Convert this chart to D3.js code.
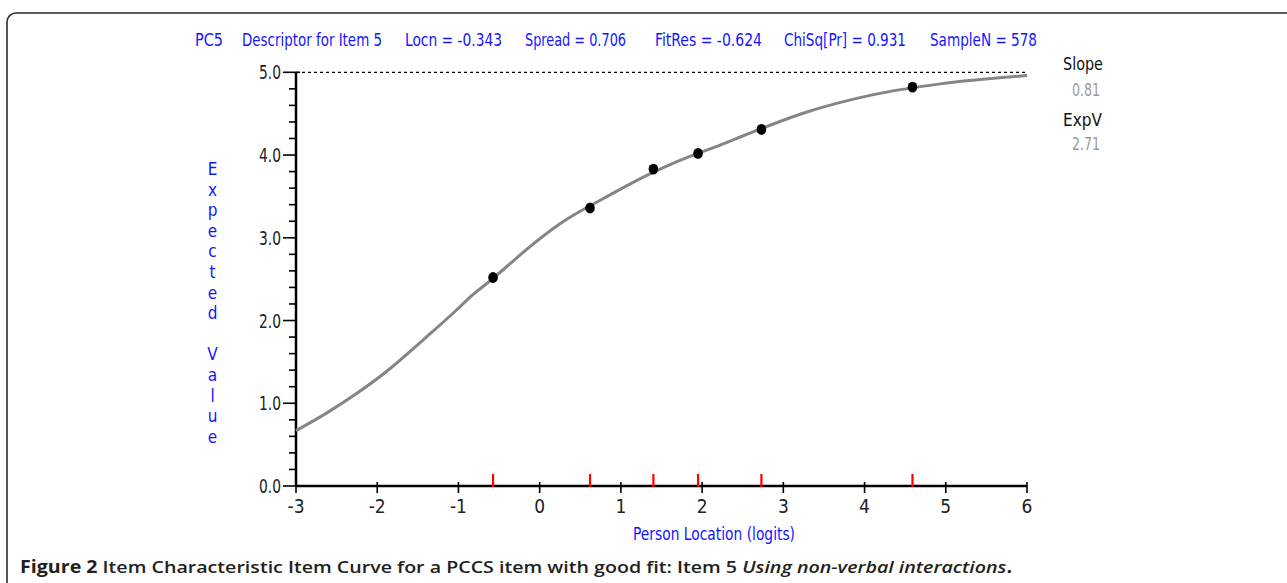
<!DOCTYPE html>
<html>
<head>
<meta charset="utf-8">
<script src="https://cdn.jsdelivr.net/npm/d3@7"></script>
<style>
  body { margin: 0; background: #fff; }
  svg { display: block; }
</style>
</head>
<body>
<script>
// curve (logits -> expected value)
const curveX = [-3, -2.66, -2.25, -1.84, -1.43, -1.02, -0.86, -0.61, -0.36, -0.16, 0.25, 0.87, 1.15, 1.69, 2.3, 2.5, 3.29, 4.11, 4.93, 6]
const curveV = [0.67, 0.86, 1.12, 1.42, 1.77, 2.13, 2.28, 2.48, 2.69, 2.86, 3.17, 3.52, 3.67, 3.92, 4.15, 4.23, 4.52, 4.73, 4.86, 4.96]

// class interval means
const obsX = [-0.574, 0.62, 1.4, 1.95, 2.73, 4.59]
const obsV = [2.52, 3.36, 3.83, 4.02, 4.31, 4.82]

const xTicks = [-3, -2, -1, 0, 1, 2, 3, 4, 5, 6]
const yMajor = [0, 1, 2, 3, 4, 5]
const yMinor = [0.2, 0.4, 0.6, 0.8, 1.2, 1.4, 1.6, 1.8, 2.2, 2.4, 2.6, 2.8, 3.2, 3.4, 3.6, 3.8, 4.2, 4.4, 4.6, 4.8]

const titleParts = ['PC5', 'Descriptor for Item 5', 'Locn = -0.343', 'Spread = 0.706', 'FitRes = -0.624', 'ChiSq[Pr] = 0.931', 'SampleN = 578']
const titleSpan = [[195, 223], [242, 382], [405, 502], [525, 626], [655, 762], [784, 906], [930, 1037]]

const sideLabels = ['Slope', 'ExpV']
const sideValues = ['0.81', '2.71']

const yLabel = 'Expected Value'
const xLabel = 'Person Location (logits)'

const narrow = '"Liberation Sans Narrow", "DejaVu Sans Condensed", "Liberation Sans", sans-serif'
const blue = '#1414ff'

const svg = d3.select('body')
  .append('svg')
  .attr('width', 1287)
  .attr('height', 583)

// frame
svg.append('rect')
  .attr('x', 7).attr('y', 13)
  .attr('width', 1320).attr('height', 620)
  .attr('rx', 9)
  .attr('fill', 'none')
  .attr('stroke', '#2b2b2b')
  .attr('stroke-width', 1.6)

const x = d3.scaleLinear().domain([-3, 6]).range([296, 1027])
const y = d3.scaleLinear().domain([0, 5]).range([486, 72.3])

// title
svg.selectAll('text.title')
  .data(titleParts)
  .enter()
  .append('text')
  .attr('class', 'title')
  .attr('x', (d, i) => titleSpan[i][0])
  .attr('y', 46)
  .attr('textLength', (d, i) => titleSpan[i][1] - titleSpan[i][0])
  .attr('lengthAdjust', 'spacingAndGlyphs')
  .attr('font-family', narrow)
  .attr('font-size', 17)
  .attr('fill', blue)
  .text(d => d)

// dashed max line
svg.append('line')
  .attr('x1', x(-3)).attr('x2', x(6))
  .attr('y1', y(5)).attr('y2', y(5))
  .attr('stroke', '#000')
  .attr('stroke-width', 1.3)
  .attr('stroke-dasharray', '3,3')

// y axis
svg.append('line')
  .attr('x1', x(-3)).attr('x2', x(-3))
  .attr('y1', y(5)).attr('y2', y(0))
  .attr('stroke', '#000').attr('stroke-width', 2.5)

svg.selectAll('line.ymin')
  .data(yMinor)
  .enter()
  .append('line')
  .attr('class', 'ymin')
  .attr('x1', x(-3) - 7).attr('x2', x(-3))
  .attr('y1', d => y(d)).attr('y2', d => y(d))
  .attr('stroke', '#000').attr('stroke-width', 1.6)

svg.selectAll('line.ymaj')
  .data(yMajor)
  .enter()
  .append('line')
  .attr('class', 'ymaj')
  .attr('x1', x(-3) - 13).attr('x2', d => d == 5 ? x(-3) + 4 : x(-3))
  .attr('y1', d => y(d)).attr('y2', d => y(d))
  .attr('stroke', '#000').attr('stroke-width', 1.6)

svg.selectAll('text.ylab')
  .data(yMajor)
  .enter()
  .append('text')
  .attr('class', 'ylab')
  .attr('x', x(-3) - 15)
  .attr('y', d => y(d) + 7)
  .attr('text-anchor', 'end')
  .attr('textLength', 22)
  .attr('lengthAdjust', 'spacingAndGlyphs')
  .attr('font-family', narrow)
  .attr('font-size', 19)
  .attr('fill', '#222')
  .text(d => d.toFixed(1))

// x axis
svg.append('line')
  .attr('x1', x(-3)).attr('x2', x(6))
  .attr('y1', y(0)).attr('y2', y(0))
  .attr('stroke', '#000').attr('stroke-width', 2.5)

svg.selectAll('line.xt')
  .data(xTicks)
  .enter()
  .append('line')
  .attr('class', 'xt')
  .attr('x1', d => x(d)).attr('x2', d => x(d))
  .attr('y1', y(0) - 4).attr('y2', y(0) + 7)
  .attr('stroke', '#000').attr('stroke-width', 1.6)

svg.selectAll('text.xlab')
  .data(xTicks)
  .enter()
  .append('text')
  .attr('class', 'xlab')
  .attr('x', d => x(d))
  .attr('y', 513)
  .attr('text-anchor', 'middle')
  .attr('font-family', narrow)
  .attr('font-size', 19)
  .attr('fill', '#222')
  .text(d => d)

// red location ticks
svg.selectAll('line.red')
  .data(obsX)
  .enter()
  .append('line')
  .attr('class', 'red')
  .attr('x1', d => x(d)).attr('x2', d => x(d))
  .attr('y1', y(0) - 12).attr('y2', y(0) + 1)
  .attr('stroke', '#ff0000').attr('stroke-width', 2.2)

// axis titles
svg.append('text')
  .attr('x', 633).attr('y', 540)
  .attr('textLength', 162)
  .attr('lengthAdjust', 'spacingAndGlyphs')
  .attr('font-family', narrow)
  .attr('font-size', 18)
  .attr('fill', blue)
  .text(xLabel)

svg.selectAll('text.yt')
  .data(yLabel.split(''))
  .enter()
  .append('text')
  .attr('class', 'yt')
  .attr('x', 212.5)
  .attr('y', (d, i) => 175 + i * 20.6)
  .attr('text-anchor', 'middle')
  .attr('font-family', narrow)
  .attr('font-size', 17)
  .attr('fill', blue)
  .text(d => d)

// expected value curve
const line = d3.line()
  .x(d => x(d[0]))
  .y(d => y(d[1]))
  .curve(d3.curveMonotoneX)

svg.append('path')
  .datum(curveX.map((v, i) => [v, curveV[i]]))
  .attr('d', line)
  .attr('fill', 'none')
  .attr('stroke', '#858585')
  .attr('stroke-width', 3)

svg.selectAll('ellipse.obs')
  .data(obsX.map((v, i) => [v, obsV[i]]))
  .enter()
  .append('ellipse')
  .attr('class', 'obs')
  .attr('cx', d => x(d[0]))
  .attr('cy', d => y(d[1]))
  .attr('rx', 4.8).attr('ry', 5.4)
  .attr('fill', '#000')

// side stats
svg.selectAll('text.side')
  .data(sideLabels)
  .enter()
  .append('text')
  .attr('class', 'side')
  .attr('x', 1063)
  .attr('y', (d, i) => 70 + i * 56)
  .attr('textLength', d => d == 'Slope' ? 40 : 39)
  .attr('lengthAdjust', 'spacingAndGlyphs')
  .attr('font-family', narrow)
  .attr('font-size', 18)
  .attr('fill', '#111')
  .text(d => d)

svg.selectAll('text.sidev')
  .data(sideValues)
  .enter()
  .append('text')
  .attr('class', 'sidev')
  .attr('x', 1072)
  .attr('y', (d, i) => 96 + i * 54)
  .attr('textLength', 28)
  .attr('lengthAdjust', 'spacingAndGlyphs')
  .attr('font-family', narrow)
  .attr('font-size', 18)
  .attr('fill', '#9a9a9a')
  .text(d => d)

// caption
const cap = svg.append('text')
  .attr('x', 20).attr('y', 573)
  .attr('textLength', 992)
  .attr('lengthAdjust', 'spacingAndGlyphs')
  .attr('font-family', '"Open Sans", "Noto Sans", sans-serif')
  .attr('font-size', 17)
  .attr('fill', '#231f20')
cap.append('tspan').attr('font-weight', 'bold').text('Figure 2')
cap.append('tspan').attr('font-weight', 600).text(' Item Characteristic Item Curve for a PCCS item with good fit: Item 5 ')
cap.append('tspan').attr('font-weight', 600).attr('font-style', 'italic').text('Using non-verbal interactions')
cap.append('tspan').attr('font-weight', 'bold').text('.')
</script>
</body>
</html>
